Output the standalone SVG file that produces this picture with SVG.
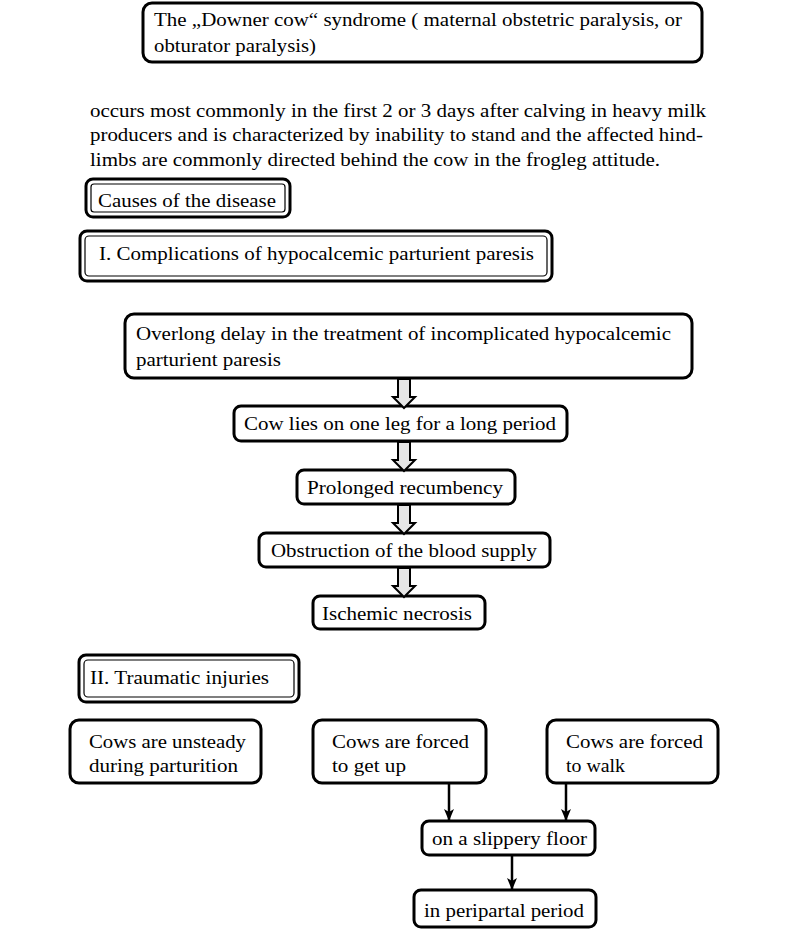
<svg xmlns="http://www.w3.org/2000/svg" width="797" height="934" viewBox="0 0 797 934" font-family="Liberation Serif, Times New Roman, Tinos, Noto Serif, DejaVu Serif, serif">
<style>
text{font-size:19px;fill:#000}
.box{fill:#fff;stroke:#000;stroke-width:3}
.outer{fill:#fff;stroke:#000;stroke-width:3}
.inner{fill:none;stroke:#000;stroke-width:1.2}
.blk{fill:#e6e6e6;stroke:#000;stroke-width:2;stroke-linejoin:miter}
.ln{stroke:#000;stroke-width:2.5;fill:none}
</style>
<defs>
<marker id="ah" markerWidth="12" markerHeight="10" refX="11" refY="5" orient="auto" markerUnits="userSpaceOnUse" viewBox="0 0 12 10">
<path d="M0,0 L3,5 L0,10 L12,5 Z" fill="#000"/>
</marker>
<path id="barrow" d="M-6,0 L6,0 L6,18 L11,18 L0,29 L-11,18 L-6,18 Z"/>
</defs>
<rect width="797" height="934" fill="#fff"/>

<g id="title">
<rect class="box" x="143" y="3" width="559" height="59" rx="9"/>
<text x="154" y="26" textLength="528" lengthAdjust="spacingAndGlyphs">The „Downer cow“ syndrome ( maternal obstetric paralysis, or</text>
<text x="154" y="52" textLength="162" lengthAdjust="spacingAndGlyphs">obturator paralysis)</text>
</g>

<g id="description">
<text x="90" y="117" textLength="616" lengthAdjust="spacingAndGlyphs">occurs most commonly in the first 2 or 3 days after calving in heavy milk</text>
<text x="90" y="141" textLength="613" lengthAdjust="spacingAndGlyphs">producers and is characterized by inability to stand and the affected hind-</text>
<text x="90" y="166" textLength="570" lengthAdjust="spacingAndGlyphs">limbs are commonly directed behind the cow in the frogleg attitude.</text>
</g>

<g id="causes">
<rect class="outer" x="86" y="179" width="204" height="38" rx="7"/>
<rect class="inner" x="91" y="184" width="194" height="28" rx="3"/>
<text x="98" y="207" textLength="178" lengthAdjust="spacingAndGlyphs">Causes of the disease</text>
</g>

<g id="complications">
<rect class="outer" x="80" y="231" width="472" height="50" rx="7" stroke-width="2"/>
<rect class="inner" x="85" y="236" width="462" height="40" rx="4"/>
<text x="99" y="260" textLength="435" lengthAdjust="spacingAndGlyphs">I. Complications of hypocalcemic parturient paresis</text>
</g>

<g id="overlong">
<rect class="box" x="125" y="314" width="567" height="64" rx="9"/>
<text x="136" y="340" textLength="535" lengthAdjust="spacingAndGlyphs">Overlong delay in the treatment of incomplicated hypocalcemic</text>
<text x="136" y="366" textLength="145" lengthAdjust="spacingAndGlyphs">parturient paresis</text>
</g>

<g id="cowlies">
<rect class="box" x="234" y="406" width="333" height="35" rx="7"/>
<text x="244" y="430" textLength="312" lengthAdjust="spacingAndGlyphs">Cow lies on one leg for a long period</text>
</g>

<g id="prolonged">
<rect class="box" x="297" y="470" width="218" height="34" rx="7"/>
<text x="307" y="494" textLength="196" lengthAdjust="spacingAndGlyphs">Prolonged recumbency</text>
</g>

<g id="obstruction">
<rect class="box" x="259" y="533" width="291" height="34" rx="7"/>
<text x="271" y="557" textLength="266" lengthAdjust="spacingAndGlyphs">Obstruction of the blood supply</text>
</g>

<g id="ischemic">
<rect class="box" x="313" y="596" width="172" height="33" rx="7"/>
<text x="322" y="620" textLength="150" lengthAdjust="spacingAndGlyphs">Ischemic necrosis</text>
</g>

<g id="traumatic">
<rect class="outer" x="79" y="655" width="220" height="47" rx="7" stroke-width="2"/>
<rect class="inner" x="84" y="660" width="210" height="37" rx="4"/>
<text x="90" y="684" textLength="179" lengthAdjust="spacingAndGlyphs">II. Traumatic injuries</text>
</g>

<g id="unsteady">
<rect class="box" x="70" y="720" width="191" height="63" rx="9"/>
<text x="89" y="748" textLength="157" lengthAdjust="spacingAndGlyphs">Cows are unsteady</text>
<text x="89" y="772" textLength="149" lengthAdjust="spacingAndGlyphs">during parturition</text>
</g>

<g id="getup">
<rect class="box" x="313" y="720" width="173" height="63" rx="9"/>
<text x="332" y="748" textLength="137" lengthAdjust="spacingAndGlyphs">Cows are forced</text>
<text x="332" y="772" textLength="74" lengthAdjust="spacingAndGlyphs">to get up</text>
</g>

<g id="walk">
<rect class="box" x="547" y="720" width="171" height="63" rx="9"/>
<text x="566" y="748" textLength="137" lengthAdjust="spacingAndGlyphs">Cows are forced</text>
<text x="566" y="772" textLength="59" lengthAdjust="spacingAndGlyphs">to walk</text>
</g>

<g id="slippery">
<rect class="box" x="422" y="821" width="173" height="34" rx="7"/>
<text x="432" y="845" textLength="155" lengthAdjust="spacingAndGlyphs">on a slippery floor</text>
</g>

<g id="peripartal">
<rect class="box" x="414" y="890" width="182" height="37" rx="7"/>
<text x="424" y="917" textLength="160" lengthAdjust="spacingAndGlyphs">in peripartal period</text>
</g>

<g id="connectors">
<use href="#barrow" class="blk" x="404" y="379"/>
<use href="#barrow" class="blk" x="404" y="442"/>
<use href="#barrow" class="blk" x="404" y="505"/>
<use href="#barrow" class="blk" x="404" y="568"/>
<line class="ln" x1="449" y1="783" x2="449" y2="820" marker-end="url(#ah)"/>
<line class="ln" x1="566" y1="783" x2="566" y2="820" marker-end="url(#ah)"/>
<line class="ln" x1="512" y1="855" x2="512" y2="889" marker-end="url(#ah)"/>
</g>
</svg>
